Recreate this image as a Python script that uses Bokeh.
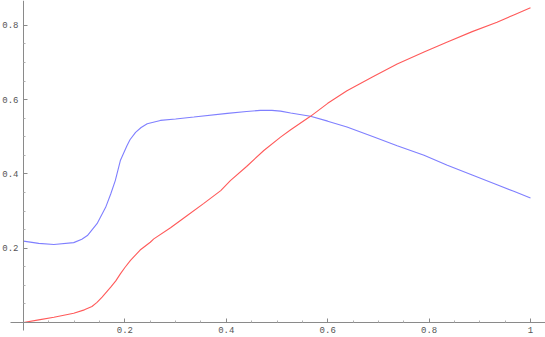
from bokeh.plotting import figure
from bokeh.models import LinearAxis, FixedTicker, Range1d
from bokeh.embed import file_html
from bokeh.resources import INLINE

# Blue series
blue_x = [0.0, 0.03, 0.06, 0.099, 0.115, 0.126, 0.145, 0.162, 0.172, 0.181, 0.191, 0.204, 0.21,
          0.221, 0.232, 0.244, 0.270, 0.30, 0.336, 0.402, 0.44, 0.467, 0.49, 0.507, 0.527, 0.566,
          0.60, 0.638, 0.69, 0.737, 0.79, 0.836, 0.885, 0.934, 0.967, 1.0]
blue_y = [0.219, 0.213, 0.210, 0.215, 0.224, 0.234, 0.266, 0.310, 0.346, 0.382, 0.436, 0.476, 0.492,
          0.512, 0.525, 0.535, 0.544, 0.548, 0.553, 0.563, 0.568, 0.571, 0.571, 0.569, 0.564, 0.555,
          0.542, 0.526, 0.500, 0.476, 0.450, 0.423, 0.397, 0.371, 0.353, 0.335]

# Red series
red_x = [0.0, 0.03, 0.06, 0.099, 0.12, 0.135, 0.145, 0.155, 0.172, 0.182, 0.191, 0.2, 0.211,
         0.23, 0.25, 0.257, 0.29, 0.323, 0.355, 0.389, 0.408, 0.44, 0.474, 0.507, 0.527, 0.566,
         0.60, 0.638, 0.69, 0.737, 0.79, 0.836, 0.885, 0.934, 0.967, 1.0]
red_y = [0.0, 0.007, 0.014, 0.025, 0.034, 0.043, 0.054, 0.068, 0.095, 0.112, 0.131, 0.148, 0.167,
         0.195, 0.216, 0.225, 0.255, 0.288, 0.320, 0.355, 0.382, 0.420, 0.463, 0.499, 0.519, 0.555,
         0.590, 0.624, 0.662, 0.696, 0.728, 0.755, 0.783, 0.808, 0.828, 0.847]

x_ticks = [0.2, 0.4, 0.6, 0.8, 1.0]
y_ticks = [0.2, 0.4, 0.6, 0.8]
x_minor = [0.05, 0.1, 0.15, 0.25, 0.3, 0.35, 0.45, 0.5, 0.55, 0.65, 0.7, 0.75, 0.85, 0.9, 0.95]
y_minor = [0.05, 0.1, 0.15, 0.25, 0.3, 0.35, 0.45, 0.5, 0.55, 0.65, 0.7, 0.75]

p = figure(width=545, height=337, output_backend="svg", toolbar_location=None,
           x_axis_type=None, y_axis_type=None,
           x_range=Range1d(-0.0454, 1.0296), y_range=Range1d(-0.0404, 0.8668),
           min_border=0)
p.outline_line_color = None
p.xgrid.visible = False
p.ygrid.visible = False

p.line(blue_x, blue_y, line_color="#7f7fff", line_width=1.1)
p.line(red_x, red_y, line_color="#ff5a5a", line_width=1.1)

font = "Liberation Mono"
xa = LinearAxis(ticker=FixedTicker(ticks=x_ticks, minor_ticks=x_minor), fixed_location=0,
                bounds=(-0.0256, 1.0296))
ya = LinearAxis(ticker=FixedTicker(ticks=y_ticks, minor_ticks=y_minor), fixed_location=0,
                bounds=(-0.0215, 0.8668))
xa.major_label_overrides = {1.0: "1"}
for ax in (xa, ya):
    ax.axis_line_color = "#8a8a8a"
    ax.major_tick_line_color = "#8a8a8a"
    ax.minor_tick_line_color = "#b0b0b0"
    ax.major_tick_in = 4
    ax.major_tick_out = 0
    ax.minor_tick_in = 2
    ax.minor_tick_out = 0
    ax.major_label_text_font = font
    ax.major_label_text_font_size = "9px"
    ax.major_label_text_color = "#555555"
    ax.major_label_standoff = 5
p.add_layout(xa, "below")
p.add_layout(ya, "left")

open("out.html", "w").write(file_html(p, INLINE))
